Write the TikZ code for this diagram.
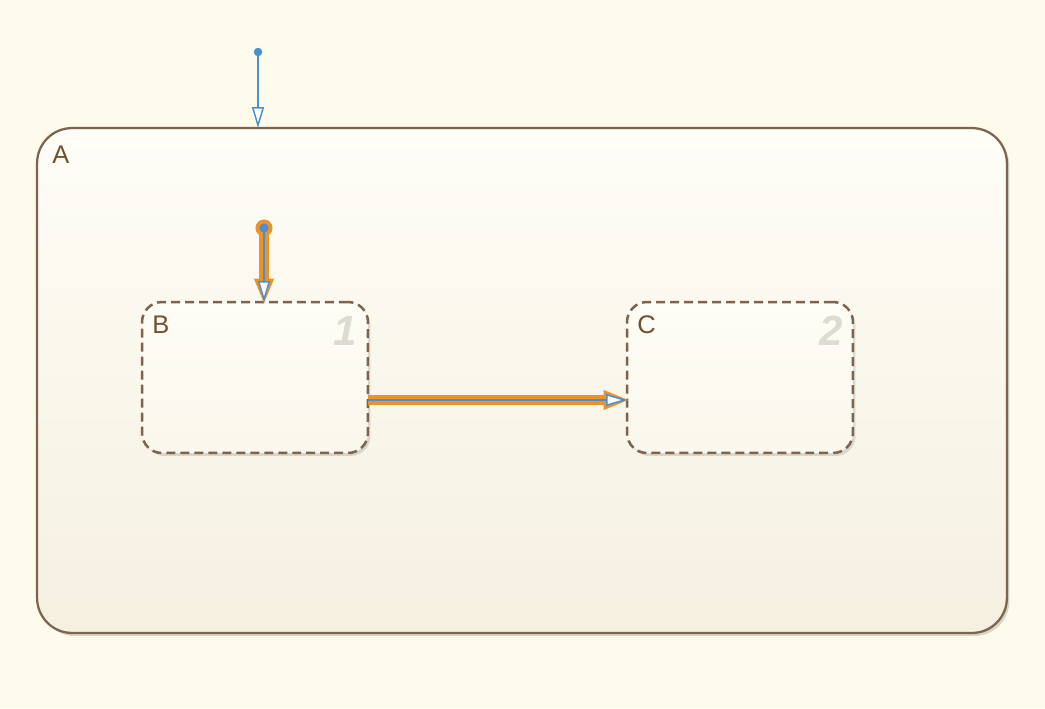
\documentclass[tikz,border=0pt]{standalone}
\usepackage{fontspec}
\setmainfont{Liberation Sans}
\usetikzlibrary{arrows.meta,shadows}
\definecolor{bg}{RGB}{254,251,236}
\definecolor{stbrown}{RGB}{125,100,78}
\definecolor{lbl}{RGB}{115,80,45}
\definecolor{tblue}{RGB}{74,144,208}
\definecolor{torange}{RGB}{236,146,42}
\definecolor{numgray}{RGB}{222,219,208}
\definecolor{atop}{RGB}{254,253,247}
\definecolor{abot}{RGB}{245,240,224}
\definecolor{btop}{RGB}{254,253,246}
\definecolor{bbot}{RGB}{250,247,236}
\tikzset{
  superstate/.style={draw=stbrown, line width=0.045cm, rounded corners=0.7cm,
    top color=atop, bottom color=abot, minimum width=19.4cm, minimum height=10.1cm,
    inner sep=0, outer sep=0,
    drop shadow={shadow xshift=0.05cm, shadow yshift=-0.06cm, opacity=0.15, fill=black}},
  substate/.style={draw=stbrown, line width=0.05cm, dash pattern=on 0.18cm off 0.1cm,
    rounded corners=0.4cm, top color=btop, bottom color=bbot,
    minimum width=4.52cm, minimum height=3.02cm, inner sep=0, outer sep=0,
    drop shadow={shadow xshift=0.05cm, shadow yshift=-0.06cm, opacity=0.12, fill=black}},
  statelabel/.style={text=lbl, font=\fontsize{14.5}{15}\selectfont, inner sep=0, anchor=base west},
  ordernum/.style={text=numgray, font=\fontsize{24}{24}\selectfont\bfseries\itshape, inner sep=0, anchor=base east},
  dfltdot/.style={circle, fill=tblue, inner sep=0, minimum size=0.17cm},
  hidot/.style={circle, fill=tblue, draw=torange, line width=0.08cm, inner sep=0, minimum size=0.26cm},
  trans/.style={draw=tblue, line width=0.03cm,
    -{Triangle[open, length=0.42cm, width=0.24cm, fill=white]}},
  halo/.style={draw=torange, line width=0.2cm,
    -{Triangle[length=0.52cm, width=0.36cm, fill=torange]}},
}
\begin{document}
\begin{tikzpicture}[x=0.02cm, y=-0.02cm]
\fill[bg] (0,0) rectangle (1045,708);
\useasboundingbox (0,0) rectangle (1045,708);

% states
\node[superstate] (A) at (522,380.5) {};
\node[substate] (B) at (255,377.5) {};
\node[substate] (C) at (740,377.5) {};

% labels
\node[statelabel] (Alab) at (52,163) {A};
\node[statelabel] (Blab) at (152,333) {B};
\node[statelabel] (Clab) at (637,333) {C};
\node[ordernum] (Bnum) at (357,345) {1};
\node[ordernum] (Cnum) at (843,345) {2};

% outer default transition
\node[dfltdot] (o0) at (258,52) {};
\draw[trans] (o0.center) -- (A.north -| o0);

% inner default transition (highlighted)
\coordinate (i0) at (264,228);
\draw[halo] (i0) -- ([yshift=-0.05cm]B.north -| i0);
\node[hidot] (i0dot) at (i0) {};
\draw[trans] (i0) -- (B.north -| i0);
\node[dfltdot, minimum size=0.15cm] (i0in) at (i0) {};

% B -> C transition (highlighted)
\draw[halo] ([yshift=-0.45cm]B.east) -- ([xshift=0.05cm, yshift=-0.45cm]C.west);
\draw[trans] ([yshift=-0.45cm]B.east) -- ([yshift=-0.45cm]C.west);
\end{tikzpicture}
\end{document}
